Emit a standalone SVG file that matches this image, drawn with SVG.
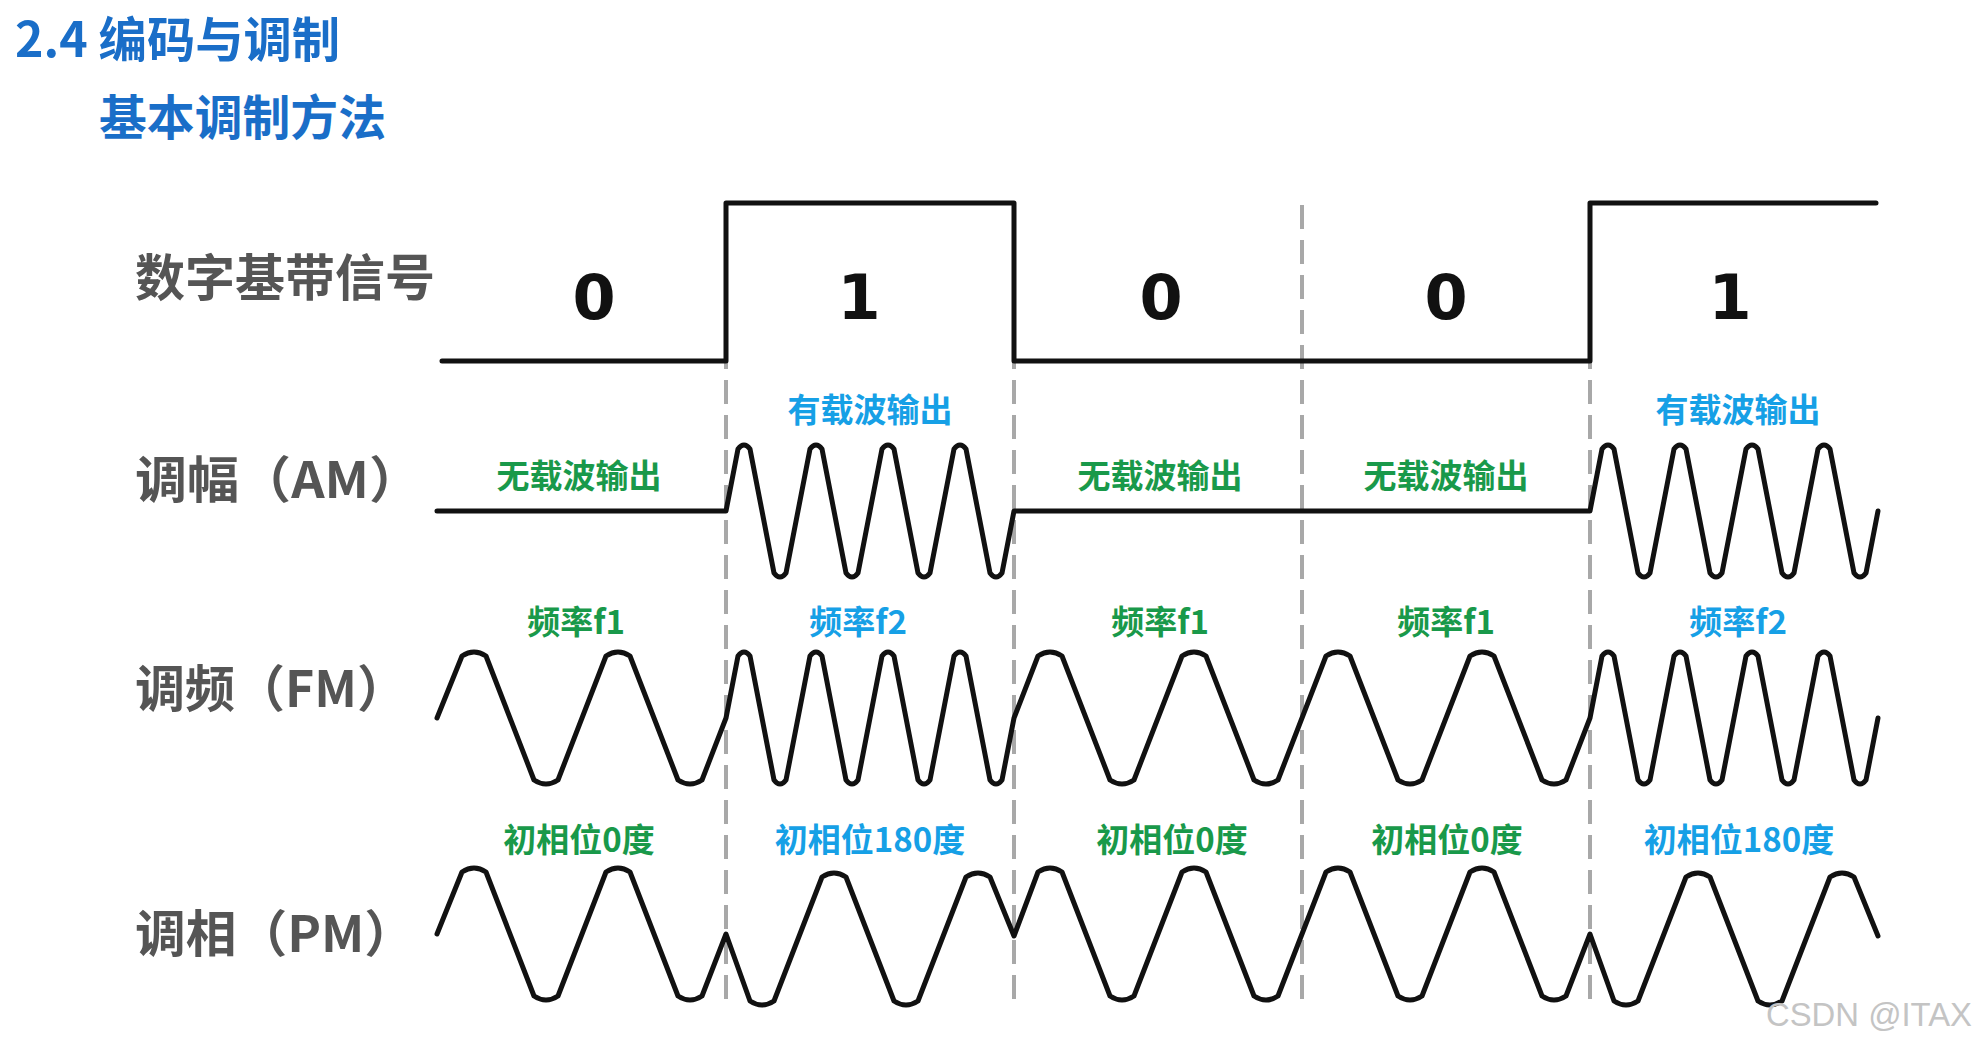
<svg xmlns="http://www.w3.org/2000/svg" width="1986" height="1046" viewBox="0 0 1986 1046">
<style>
.title{font-family:"Noto Sans CJK SC","Noto Sans",sans-serif;font-weight:bold;font-size:48px;fill:#1a6ec8}
.row{font-family:"Noto Sans CJK SC","Noto Sans",sans-serif;font-weight:bold;font-size:50px;fill:#555555}
.bit{font-family:"DejaVu Sans",sans-serif;font-weight:bold;font-size:62px;fill:#111111;text-anchor:middle}
.lab{font-family:"Noto Sans CJK SC","Noto Sans",sans-serif;font-weight:bold;font-size:33px;text-anchor:middle}
.g{fill:#19994a}
.b{fill:#16a0e6}
.wave{fill:none;stroke:#111111;stroke-width:5;stroke-linejoin:round;stroke-linecap:round}
.dash{stroke:#a8a8a8;stroke-width:4;stroke-dasharray:24 11}
.wm{font-family:"Liberation Sans",sans-serif;font-size:34px;fill:#c4c4c4}
</style>
<rect width="1986" height="1046" fill="#ffffff"/>
<g id="titles">
<text class="title" x="15" y="57" textLength="325" lengthAdjust="spacingAndGlyphs">2.4 编码与调制</text>
<text class="title" x="99" y="135" textLength="287" lengthAdjust="spacingAndGlyphs">基本调制方法</text>
</g>
<g id="row-labels">
<text class="row" x="135" y="296">数字基带信号</text>
<text class="row" x="135" y="498" textLength="286" lengthAdjust="spacingAndGlyphs">调幅（AM）</text>
<text class="row" x="135" y="707">调频（FM）</text>
<text class="row" x="135" y="952" textLength="280" lengthAdjust="spacingAndGlyphs">调相（PM）</text>
</g>
<g id="dividers">
<line class="dash" x1="726" y1="205" x2="726" y2="1010"/>
<line class="dash" x1="1014" y1="205" x2="1014" y2="1010"/>
<line class="dash" x1="1302" y1="205" x2="1302" y2="1010"/>
<line class="dash" x1="1590" y1="205" x2="1590" y2="1010"/>
</g>
<g id="baseband">
<path class="wave" d="M 442 361 L 726 361 L 726 203 L 1014 203 L 1014 361 L 1590 361 L 1590 203 L 1876 203"/>
<text class="bit" x="594" y="319">0</text>
<text class="bit" x="859" y="319">1</text>
<text class="bit" x="1161" y="319">0</text>
<text class="bit" x="1446" y="319">0</text>
<text class="bit" x="1730" y="319">1</text>
</g>
<g id="am">
<path class="wave" d="M 437 511 L 726 511 L 738 449 Q 744 441 750 449 L 774 573 Q 780 581 786 573 L 810 449 Q 816 441 822 449 L 846 573 Q 852 581 858 573 L 882 449 Q 888 441 894 449 L 918 573 Q 924 581 930 573 L 954 449 Q 960 441 966 449 L 990 573 Q 996 581 1002 573 L 1014 511 L 1590 511 L 1602 449 Q 1608 441 1614 449 L 1638 573 Q 1644 581 1650 573 L 1674 449 Q 1680 441 1686 449 L 1710 573 Q 1716 581 1722 573 L 1746 449 Q 1752 441 1758 449 L 1782 573 Q 1788 581 1794 573 L 1818 449 Q 1824 441 1830 449 L 1854 573 Q 1860 581 1866 573 L 1878 511"/>
<text class="lab g" x="579" y="488">无载波输出</text>
<text class="lab b" x="870" y="422">有载波输出</text>
<text class="lab g" x="1160" y="488">无载波输出</text>
<text class="lab g" x="1446" y="488">无载波输出</text>
<text class="lab b" x="1738" y="422">有载波输出</text>
</g>
<g id="fm">
<path class="wave" d="M 437 718 L 462 656 Q 474 648 486 656 L 534 780 Q 546 788 558 780 L 606 656 Q 618 648 630 656 L 678 780 Q 690 788 702 780 L 726 718 L 738 656 Q 744 648 750 656 L 774 780 Q 780 788 786 780 L 810 656 Q 816 648 822 656 L 846 780 Q 852 788 858 780 L 882 656 Q 888 648 894 656 L 918 780 Q 924 788 930 780 L 954 656 Q 960 648 966 656 L 990 780 Q 996 788 1002 780 L 1014 718 L 1038 656 Q 1050 648 1062 656 L 1110 780 Q 1122 788 1134 780 L 1182 656 Q 1194 648 1206 656 L 1254 780 Q 1266 788 1278 780 L 1326 656 Q 1338 648 1350 656 L 1398 780 Q 1410 788 1422 780 L 1470 656 Q 1482 648 1494 656 L 1542 780 Q 1554 788 1566 780 L 1590 718 L 1602 656 Q 1608 648 1614 656 L 1638 780 Q 1644 788 1650 780 L 1674 656 Q 1680 648 1686 656 L 1710 780 Q 1716 788 1722 780 L 1746 656 Q 1752 648 1758 656 L 1782 780 Q 1788 788 1794 780 L 1818 656 Q 1824 648 1830 656 L 1854 780 Q 1860 788 1866 780 L 1878 718"/>
<text class="lab g" x="576" y="634">频率f1</text>
<text class="lab b" x="858" y="634">频率f2</text>
<text class="lab g" x="1160" y="634">频率f1</text>
<text class="lab g" x="1446" y="634">频率f1</text>
<text class="lab b" x="1738" y="634">频率f2</text>
</g>
<g id="pm">
<path class="wave" d="M 437 934 L 462 872 Q 474 864 486 872 L 534 996 Q 546 1004 558 996 L 606 872 Q 618 864 630 872 L 678 996 Q 690 1004 702 996 L 726 934 L 750 1001 Q 762 1009 774 1001 L 822 877 Q 834 869 846 877 L 894 1001 Q 906 1009 918 1001 L 966 877 Q 978 869 990 877 L 1014 936 L 1038 872 Q 1050 864 1062 872 L 1110 996 Q 1122 1004 1134 996 L 1182 872 Q 1194 864 1206 872 L 1254 996 Q 1266 1004 1278 996 L 1326 872 Q 1338 864 1350 872 L 1398 996 Q 1410 1004 1422 996 L 1470 872 Q 1482 864 1494 872 L 1542 996 Q 1554 1004 1566 996 L 1590 934 L 1614 1001 Q 1626 1009 1638 1001 L 1686 877 Q 1698 869 1710 877 L 1758 1001 Q 1770 1009 1782 1001 L 1830 877 Q 1842 869 1854 877 L 1878 936"/>
<text class="lab g" x="579" y="852">初相位0度</text>
<text class="lab b" x="870" y="852">初相位180度</text>
<text class="lab g" x="1172" y="852">初相位0度</text>
<text class="lab g" x="1447" y="852">初相位0度</text>
<text class="lab b" x="1739" y="852">初相位180度</text>
</g>
<text class="wm" x="1766" y="1026" textLength="206" lengthAdjust="spacingAndGlyphs">CSDN @ITAX</text>
</svg>
